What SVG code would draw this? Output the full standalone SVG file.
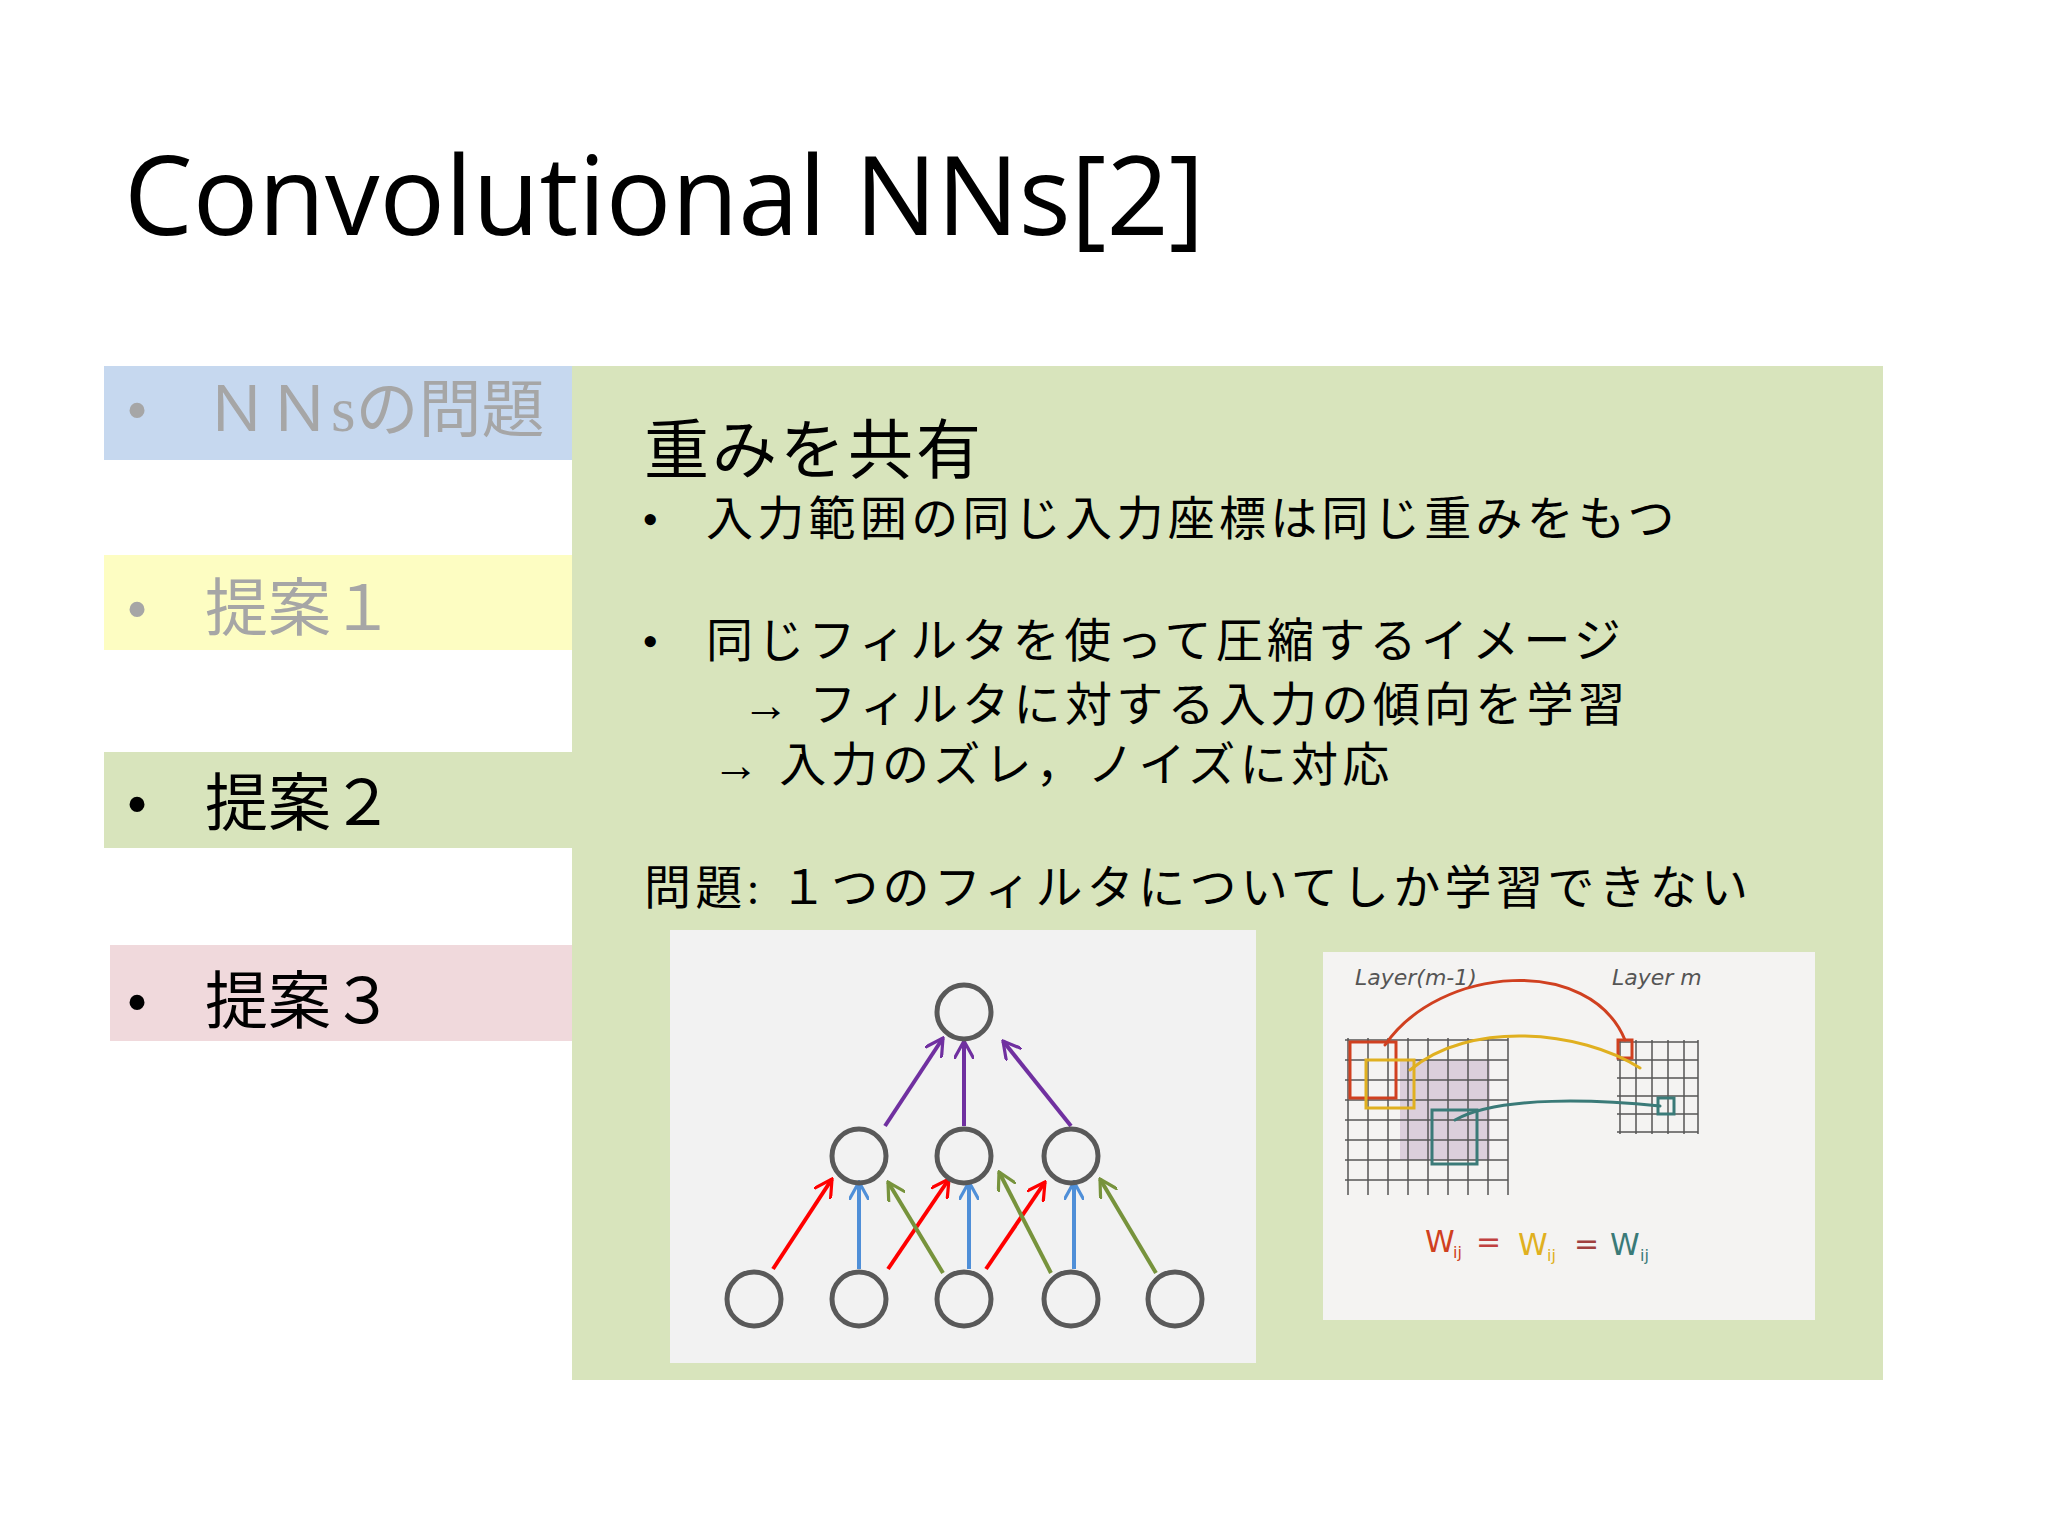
<svg xmlns="http://www.w3.org/2000/svg" width="2048" height="1536" viewBox="0 0 2048 1536">
<style>
.t{font-family:"Liberation Serif","Noto Sans CJK JP",serif;}
.n{fill:none;stroke:#595959;stroke-width:5}
.p{stroke:#7030a0;stroke-width:4;marker-end:url(#mp)}
.r{stroke:#ff0000;stroke-width:4;marker-end:url(#mr)}
.b{stroke:#4f8fd8;stroke-width:4;marker-end:url(#mb)}
.g{stroke:#77933c;stroke-width:4;marker-end:url(#mg)}
.hd{fill:none;stroke-width:3;stroke-linecap:round}
</style>
<defs>
<clipPath id="c1"><rect x="104" y="366" width="468" height="94"/></clipPath>
<marker id="mp" viewBox="0 0 10 10" refX="9" refY="5" markerWidth="5" markerHeight="5" orient="auto"><path d="M0 0L9 5L0 10" fill="none" stroke="#7030a0" stroke-width="1.6"/></marker>
<marker id="mr" viewBox="0 0 10 10" refX="9" refY="5" markerWidth="5" markerHeight="5" orient="auto"><path d="M0 0L9 5L0 10" fill="none" stroke="#ff0000" stroke-width="1.6"/></marker>
<marker id="mb" viewBox="0 0 10 10" refX="9" refY="5" markerWidth="5" markerHeight="5" orient="auto"><path d="M0 0L9 5L0 10" fill="none" stroke="#4f8fd8" stroke-width="1.6"/></marker>
<marker id="mg" viewBox="0 0 10 10" refX="9" refY="5" markerWidth="5" markerHeight="5" orient="auto"><path d="M0 0L9 5L0 10" fill="none" stroke="#77933c" stroke-width="1.6"/></marker>
</defs>
<rect width="2048" height="1536" fill="#fff"/>
<text x="124" y="235" font-family="Open Sans,Liberation Sans,sans-serif" font-size="109">Convolutional NNs[2]</text>
<g id="tab1"><rect x="104" y="366" width="468" height="94" fill="#c6d8ef"/><text class="t" x="126" y="431" font-size="63" fill="#a6a6a6">•</text><text class="t" x="205" y="431" font-size="63" fill="#a6a6a6" clip-path="url(#c1)">ＮＮsの問題</text></g>
<g id="tab2"><rect x="104" y="555" width="468" height="95" fill="#fdfdc2"/><text class="t" x="126" y="630" font-size="63" fill="#a6a6a6">•</text><text class="t" x="205" y="630" font-size="63" fill="#a6a6a6">提案１</text></g>
<g id="tab3"><rect x="104" y="752" width="468" height="96" fill="#d8e4bc"/><text class="t" x="126" y="825" font-size="63">•</text><text class="t" x="205" y="825" font-size="63">提案２</text></g>
<g id="tab4"><rect x="110" y="945" width="462" height="96" fill="#f0d9dc"/><text class="t" x="126" y="1023" font-size="63">•</text><text class="t" x="205" y="1023" font-size="63">提案３</text></g>
<g id="panel">
<rect x="572" y="366" width="1311" height="1014" fill="#d8e4bc"/>
<text class="t" x="644" y="473" font-size="65" letter-spacing="3">重みを共有</text>
<g class="t" font-size="47" letter-spacing="4.3">
<text x="642" y="535">•</text><text x="706" y="535">入力範囲の同じ入力座標は同じ重みをもつ</text>
<text x="642" y="657">•</text><text x="706" y="657">同じフィルタを使って圧縮するイメージ</text>
<text x="742" y="721">→ フィルタに対する入力の傾向を学習</text>
<text x="712" y="781">→ 入力のズレ，ノイズに対応</text>
<text x="644" y="904">問題: １つのフィルタについてしか学習できない</text>
</g>
</g>
<g id="network">
<rect x="670" y="930" width="586" height="433" fill="#f2f2f2"/>
<g id="connectors">
<line class="p" x1="885" y1="1126" x2="943" y2="1038"/><line class="p" x1="964" y1="1126" x2="964" y2="1041"/><line class="p" x1="1071" y1="1126" x2="1003" y2="1041"/>
<line class="r" x1="773" y1="1269" x2="832" y2="1179"/><line class="r" x1="888" y1="1269" x2="949" y2="1179"/><line class="r" x1="986" y1="1269" x2="1045" y2="1182"/>
<line class="g" x1="943" y1="1273" x2="888" y2="1182"/><line class="g" x1="1051" y1="1273" x2="999" y2="1172"/><line class="g" x1="1156" y1="1273" x2="1100" y2="1179"/>
<line class="b" x1="859" y1="1269" x2="859" y2="1182"/><line class="b" x1="969" y1="1269" x2="969" y2="1182"/><line class="b" x1="1074" y1="1269" x2="1074" y2="1182"/>
</g>
<circle id="n0" class="n" cx="964" cy="1012" r="27"/>
<circle id="n1" class="n" cx="859" cy="1156" r="27"/><circle id="n2" class="n" cx="964" cy="1156" r="27"/><circle id="n3" class="n" cx="1071" cy="1156" r="27"/>
<circle id="n4" class="n" cx="754" cy="1299" r="27"/><circle id="n5" class="n" cx="859" cy="1299" r="27"/><circle id="n6" class="n" cx="964" cy="1299" r="27"/><circle id="n7" class="n" cx="1071" cy="1299" r="27"/><circle id="n8" class="n" cx="1175" cy="1299" r="27"/>
</g>
<g id="sketch">
<rect x="1323" y="952" width="492" height="368" fill="#f4f3f2"/>
<text x="1355" y="985" font-family="DejaVu Sans,sans-serif" font-size="22" fill="#555" font-style="italic">Layer(m-1)</text>
<text x="1612" y="985" font-family="DejaVu Sans,sans-serif" font-size="22" fill="#555" font-style="italic">Layer m</text>
<rect x="1400" y="1060" width="90" height="100" fill="#c9b8cc" opacity="0.6"/>
<g stroke="#555" stroke-width="1.5" fill="none">
<path d="M1345 1040H1508M1345 1060H1508M1345 1080H1508M1345 1100H1508M1345 1120H1508M1345 1140H1508M1345 1160H1508M1345 1180H1508"/>
<path d="M1348 1038V1195M1368 1038V1195M1388 1038V1195M1408 1038V1195M1428 1038V1195M1448 1038V1195M1468 1038V1195M1488 1038V1195M1508 1038V1195"/>
<path d="M1617 1042H1698M1617 1060H1698M1617 1078H1698M1617 1096H1698M1617 1114H1698M1617 1132H1698"/>
<path d="M1620 1040V1134M1636 1040V1134M1652 1040V1134M1668 1040V1134M1684 1040V1134M1698 1040V1134"/>
</g>
<rect x="1350" y="1042" width="46" height="56" class="hd" stroke="#d04020"/>
<rect x="1366" y="1060" width="48" height="48" class="hd" stroke="#e0b020"/>
<rect x="1432" y="1110" width="45" height="54" class="hd" stroke="#3a7a78"/>
<rect x="1618" y="1040" width="14" height="18" class="hd" stroke="#d04020"/>
<rect x="1658" y="1098" width="16" height="16" class="hd" stroke="#3a7a78"/>
<path class="hd" stroke="#d04020" d="M1385 1045C1440 965 1590 955 1625 1040"/>
<path class="hd" stroke="#e0b020" d="M1410 1070C1470 1020 1580 1030 1640 1068"/>
<path class="hd" stroke="#3a7a78" d="M1455 1120C1500 1095 1600 1100 1660 1106"/>
<text x="1425" y="1252" font-family="DejaVu Sans,sans-serif" font-size="30" fill="#d04020">W</text><text x="1453" y="1258" font-family="DejaVu Sans,sans-serif" font-size="16" fill="#d04020">ij</text>
<text x="1476" y="1252" font-family="DejaVu Sans,sans-serif" font-size="30" fill="#c04040">=</text>
<text x="1518" y="1255" font-family="DejaVu Sans,sans-serif" font-size="30" fill="#e0b020">W</text><text x="1547" y="1261" font-family="DejaVu Sans,sans-serif" font-size="16" fill="#e0b020">ij</text>
<text x="1574" y="1254" font-family="DejaVu Sans,sans-serif" font-size="30" fill="#a04040">=</text>
<text x="1610" y="1255" font-family="DejaVu Sans,sans-serif" font-size="30" fill="#3a7a78">W</text><text x="1640" y="1261" font-family="DejaVu Sans,sans-serif" font-size="16" fill="#3a7a78">ij</text>
</g>
</svg>
